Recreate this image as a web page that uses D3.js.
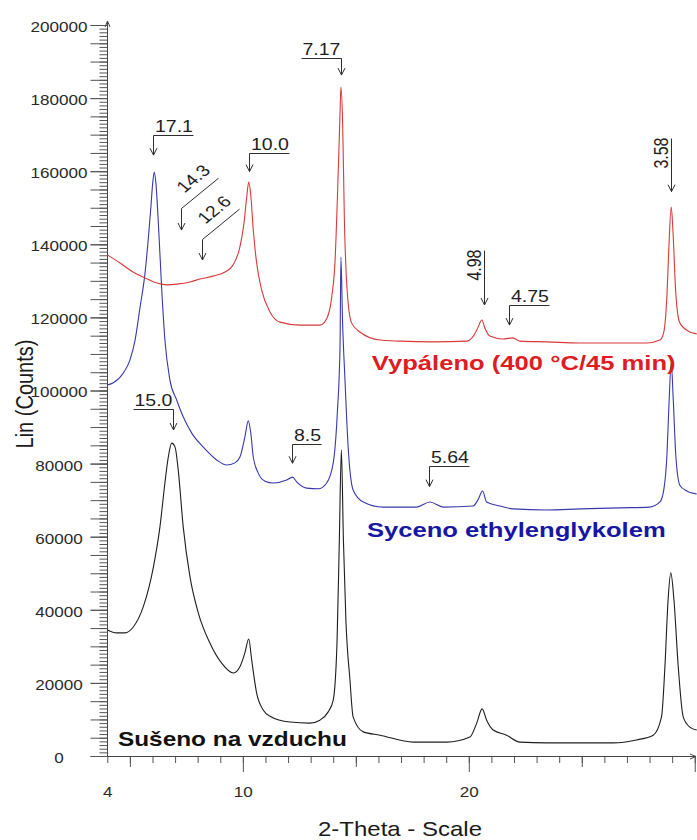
<!DOCTYPE html>
<html>
<head>
<meta charset="utf-8">
<script src="https://cdn.jsdelivr.net/npm/d3@7"></script>
<style>
  html, body { margin: 0; padding: 0; background: #fff; }
  svg { display: block; font-family: "Liberation Sans", Arial, sans-serif; }
</style>
</head>
<body>
<svg id="chart" width="697" height="840"></svg>
<script>
// Diffractograms of the clay fraction, [2θ (°), intensity (counts)]
const calcinedPattern = [
  [4.00,137100],[4.56,134900],[5.14,132400],[5.67,130800],[6.20,129400],[6.64,128900],
  [7.08,129100],[7.66,129700],[8.10,130500],[8.68,131300],[9.21,132400],[9.56,134300],
  [9.87,139300],[10.05,145800],[10.17,152900],[10.26,157000],[10.35,153500],[10.46,143900],
  [10.61,134900],[10.83,127500],[11.20,121500],[11.64,118700],[12.53,117900],[13.41,117900],
  [13.72,119800],[13.94,125900],[14.08,135400],[14.19,153800],[14.30,175700],[14.34,183000],
  [14.42,172100],[14.49,147700],[14.62,127000],[14.81,118500],[15.18,116000],[16.07,113800],
  [16.95,113500],[18.41,113300],[19.92,113500],[20.14,114400],[20.36,116600],[20.58,119300],
  [20.71,117100],[20.93,114900],[21.51,114100],[21.95,114400],[22.26,113500],[23.46,113300],
  [24.92,113000],[26.69,113000],[27.88,113000],[28.46,113800],[28.63,116000],[28.77,126100],
  [28.85,138400],[28.96,150200],[29.04,143100],[29.16,126700],[29.34,118500],[29.78,116000],
  [30.09,115500]
];
const glycolPattern = [
  [4.00,101500],[4.27,102100],[4.71,104800],[5.00,108300],[5.23,113800],[5.45,122800],
  [5.67,132100],[5.81,141200],[5.93,150200],[6.01,156800],[6.08,159800],[6.15,156800],
  [6.26,145800],[6.41,127500],[6.55,113800],[6.77,102900],[7.07,97400],[7.36,92800],
  [7.73,88400],[8.25,84500],[8.84,81000],[9.28,79600],[9.65,80200],[9.87,81800],
  [10.09,87300],[10.24,91700],[10.35,88400],[10.46,81800],[10.68,77400],[10.98,75200],
  [11.35,74700],[11.94,75500],[12.20,76300],[12.38,75000],[12.82,73300],[13.34,73100],
  [13.71,74700],[14.00,80200],[14.18,93800],[14.30,111900],[14.34,136500],[14.41,119300],
  [14.52,102900],[14.66,84500],[14.88,72800],[15.33,69500],[16.21,68100],[17.69,68100],
  [18.28,69500],[18.87,68100],[20.19,68400],[20.40,70000],[20.61,72500],[20.79,69500],
  [21.38,68400],[21.96,67600],[23.44,67300],[24.92,67600],[26.69,67900],[28.01,68100],
  [28.46,69500],[28.63,72800],[28.77,82400],[28.85,94700],[28.96,107500],[29.05,97400],
  [29.16,82400],[29.34,74100],[29.65,72500],[30.09,71700]
];
const airDriedPattern = [
  [4.00,34500],[4.42,33700],[4.78,33700],[5.15,35300],[5.59,40800],[6.04,51700],
  [6.33,62700],[6.55,74700],[6.70,81800],[6.85,85600],[7.00,84500],[7.14,78200],
  [7.36,62700],[7.66,49000],[8.03,39100],[8.54,30900],[9.06,25400],[9.58,22700],
  [9.87,24400],[10.09,28200],[10.26,32000],[10.39,26300],[10.61,17200],[10.90,12600],
  [11.20,10900],[12.08,9300],[12.97,9000],[13.41,9800],[13.77,12000],[14.00,15300],
  [14.17,31700],[14.27,59100],[14.36,83700],[14.45,59100],[14.56,37200],[14.74,20800],
  [14.88,10700],[15.33,6600],[16.07,5700],[17.54,3800],[19.02,3800],[20.05,5200],
  [20.35,9000],[20.59,12900],[20.79,9800],[21.08,7100],[21.67,5700],[22.26,3800],
  [23.44,3600],[24.92,3600],[26.39,3600],[27.42,4400],[28.16,5700],[28.53,10700],
  [28.68,24400],[28.82,42700],[28.94,50100],[29.08,42700],[29.27,24400],[29.49,10700],
  [29.78,7900],[30.09,7100]
];

// Series names
const seriesNames = ["Vypáleno (400 °C/45 min)", "Syceno ethylenglykolem", "Sušeno na vzduchu"];

// Axis ticks
const yLabelTicks = d3.range(0, 200001, 20000);
const yMidTicks = d3.range(0, 200001, 5000);
const yMinorTicks = d3.range(0, 200001, 1000);
const xMinorTicks = d3.range(4, 31, 1);
const xMidTicks = [5, 15, 25];
const xMajorTicks = [10, 20, 30];
const xLabelTicks = [4, 10, 20];

// Basal spacing marks (Å): label, 2θ, counts at the leader, counts at the arrow tip, leader kind
const dLabels  = ["17.1", "14.3", "12.6", "10.0", "7.17", "4.98", "4.75", "3.58", "15.0", "8.5", "5.64"];
const dTheta   = [6.04, 7.24, 8.18, 10.26, 14.34, 20.68, 21.80, 28.94, 6.89, 12.16, 18.24];
const dTop     = [169900, 149900, 141500, 164900, 191000, 138400, 123400, 169200, 94900, 85400, 79300];
const dTip     = [164400, 143900, 135700, 159900, 186300, 123400, 117900, 154400, 89200, 80100, 73700];
const dKind    = ["L", "D", "D", "L", "R", "V", "L", "V", "R", "L", "L"];

const svg = d3.select("#chart");
const FONT = '"Liberation Sans", Arial, sans-serif';
const SX = 1.22;   // horizontal text stretch used throughout the figure

const x = d3.scaleLinear().domain([4, 30.1]).range([107.3, 697]);
const y = d3.scaleLinear().domain([0, 200000]).range([756, 25]);

function stretch(sel, k) {
  sel.each(function () {
    const t = d3.select(this);
    const tx = +t.attr("x") || 0, ty = +t.attr("y") || 0;
    t.attr("transform", `translate(${tx},${ty}) scale(${k},1) translate(${-tx},${-ty})`);
  });
}

// ---- Y axis ----
const axisX = 107.5;
function yTicks(values, size) {
  const g = svg.append("g").attr("transform", `translate(${axisX},0)`)
    .call(d3.axisLeft(y).tickValues(values).tickSize(size).tickFormat(""));
  g.select(".domain").remove();
  g.selectAll(".tick line").attr("stroke", "#555").attr("stroke-width", 1);
  return g;
}
yTicks(yMinorTicks, 8);
yTicks(yMidTicks, 17);
const gyl = svg.append("g").attr("transform", `translate(${axisX},0)`)
  .call(d3.axisLeft(y).tickValues(yLabelTicks).tickSize(17).tickFormat(d3.format("d")));
gyl.select(".domain").remove();
gyl.selectAll(".tick line").attr("stroke", "#555");
gyl.selectAll(".tick text")
  .attr("x", -48.5).attr("y", 1.5).attr("dy", "0.35em")
  .attr("text-anchor", "middle")
  .attr("font-family", FONT).attr("font-size", 14).attr("fill", "#2a2a2a")
  .call(stretch, SX);

// ---- X axis ----
function xTicks(values, size) {
  const g = svg.append("g").attr("transform", "translate(0,756)")
    .call(d3.axisBottom(x).tickValues(values).tickSize(size).tickFormat(""));
  g.select(".domain").remove();
  g.selectAll(".tick line").attr("stroke", "#555");
  return g;
}
xTicks(xMinorTicks, 7);
xTicks(xMidTicks, 11);
xTicks(xMajorTicks, 16);
const gxl = svg.append("g").attr("transform", "translate(0,756)")
  .call(d3.axisBottom(x).tickValues(xLabelTicks).tickSize(0).tickPadding(31).tickFormat(d3.format("d")));
gxl.select(".domain").remove();
gxl.selectAll(".tick text")
  .attr("font-family", FONT).attr("font-size", 14).attr("fill", "#2a2a2a")
  .call(stretch, SX);

// Axis lines with arrow ends
svg.append("path")
  .attr("d", `M${axisX},756 L${axisX},21 M${axisX - 2.5},27 L${axisX},21 L${axisX + 2.5},27`)
  .attr("fill", "none").attr("stroke", "#444").attr("stroke-width", 1);
svg.append("path")
  .attr("d", `M${axisX},756.5 L696,756.5 M690,754 L696,756.5 L690,759`)
  .attr("fill", "none").attr("stroke", "#444").attr("stroke-width", 1);

// Axis titles
svg.append("text")
  .attr("transform", `translate(24,394) scale(${SX},1) rotate(-90)`)
  .attr("text-anchor", "middle").attr("dy", "0.35em")
  .attr("font-family", FONT).attr("font-size", 20).attr("fill", "#1a1a1a")
  .text("Lin (Counts)");
svg.append("text")
  .attr("x", 400).attr("y", 836).attr("text-anchor", "middle")
  .attr("font-family", FONT).attr("font-size", 20).attr("fill", "#1a1a1a")
  .text("2-Theta - Scale")
  .call(stretch, 1.2);

// ---- Patterns ----
const line = d3.line()
  .x(d => x(d[0]))
  .y(d => y(d[1]))
  .curve(d3.curveMonotoneX);

const patterns = [
  { data: airDriedPattern, color: "#1e1e1e" },
  { data: glycolPattern, color: "#3838ad" },
  { data: calcinedPattern, color: "#d9393b" }
];
patterns.forEach(p => {
  svg.append("path")
    .datum(p.data)
    .attr("d", line)
    .attr("fill", "none")
    .attr("stroke", p.color)
    .attr("stroke-width", 1.1)
    .attr("stroke-linejoin", "round");
});

// ---- Series labels ----
const labelColors = ["#e01b22", "#1717a3", "#111111"];
const labelAt = [[15.71, 105600], [15.49, 59900], [4.47, 2700]];
const labelStretch = [1.28, 1.28, SX];
seriesNames.forEach((name, i) => {
  svg.append("text")
    .attr("x", x(labelAt[i][0])).attr("y", y(labelAt[i][1]))
    .attr("font-family", FONT).attr("font-size", 20).attr("font-weight", "bold")
    .attr("fill", labelColors[i])
    .text(name)
    .call(stretch, labelStretch[i]);
});

// ---- d-spacing marks ----
const ann = svg.append("g");
const markStroke = "#2e2e2e";
function arrowHead(px, yb) {
  return `M${px - 3.5},${yb - 7} L${px},${yb} L${px + 3.5},${yb - 7}`;
}
dLabels.forEach((label, i) => {
  const px = Math.round(x(dTheta[i])) + 0.5;
  const yt = Math.round(y(dTop[i])) + 0.5;
  const yb = y(dTip[i]);
  const kind = dKind[i];
  const t = ann.append("text")
    .attr("font-family", FONT).attr("font-size", 16).attr("fill", "#1e1e1e")
    .text(label);
  const w = t.node().getComputedTextLength() * SX + 2;
  let d;
  if (kind === "L") {
    t.attr("x", px + 1.5).attr("y", yt - 3).call(stretch, SX);
    d = `M${px},${yb} L${px},${yt} L${px + w},${yt}`;
  } else if (kind === "R") {
    t.attr("x", px - w + 1).attr("y", yt - 3).call(stretch, SX);
    d = `M${px},${yb} L${px},${yt} L${px - w},${yt}`;
  } else if (kind === "V") {
    t.attr("text-anchor", "end")
      .attr("transform", `translate(${px - 4},${yt - 1}) scale(${SX},1) rotate(-90)`);
    d = `M${px},${yb} L${px},${yt}`;
  } else {
    t.attr("transform", `translate(${px + 3},${yt - 15}) scale(${SX},1) rotate(-45)`);
    d = `M${px},${yb} L${px},${yt} L${px + 37},${yt - 30.3}`;
  }
  ann.append("path")
    .attr("d", d + " " + arrowHead(px, yb))
    .attr("fill", "none").attr("stroke", markStroke).attr("stroke-width", 1);
});
</script>
</body>
</html>
